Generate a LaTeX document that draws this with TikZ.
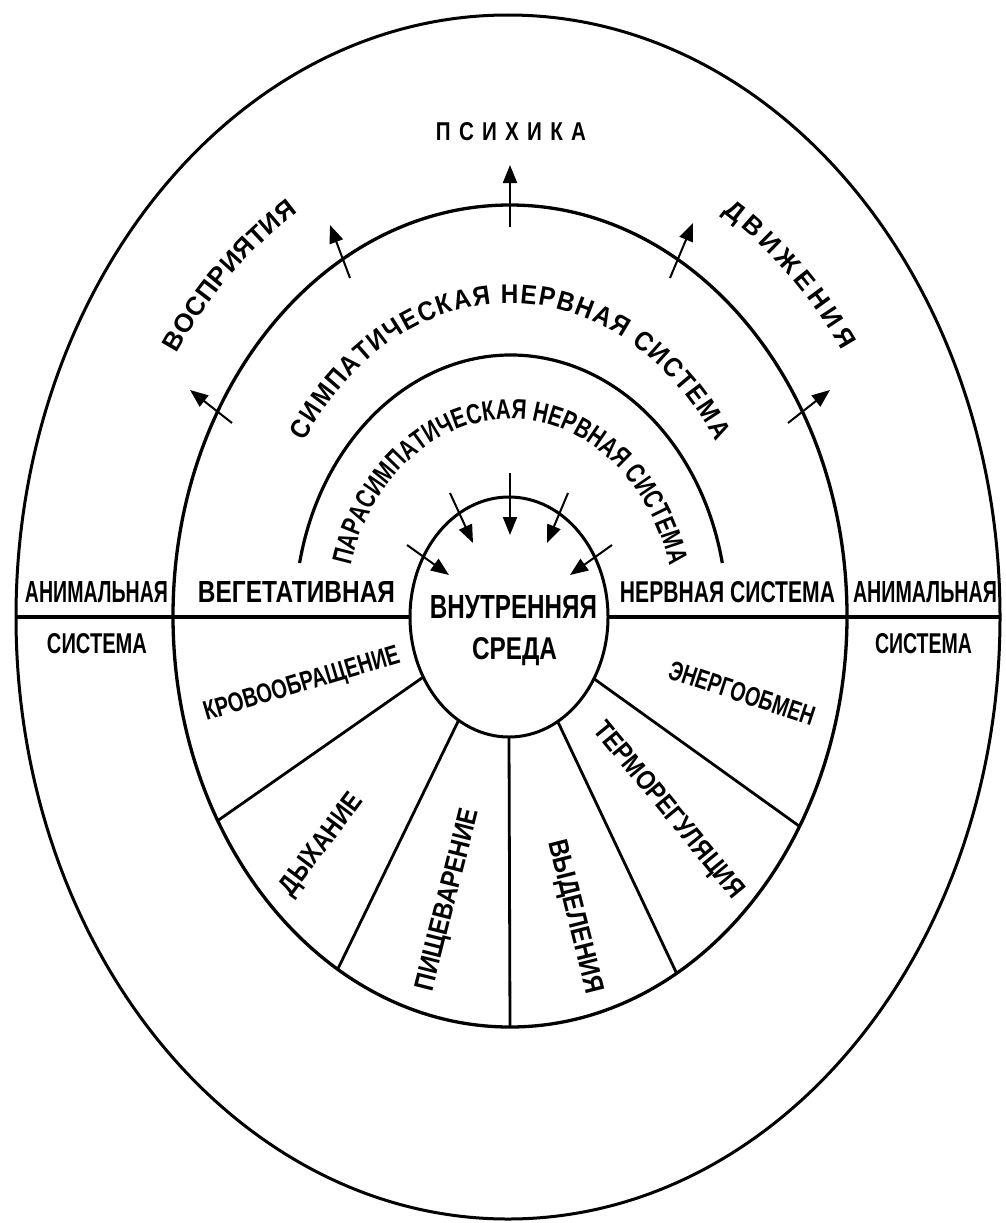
\documentclass[tikz,border=0pt]{standalone}
\usepackage{fontspec}
\usepackage{graphicx}
\setmainfont{Liberation Sans}
\newfontfamily\condfont[FakeStretch=0.72]{Liberation Sans}
\newfontfamily\parafont[FakeStretch=0.74]{Liberation Sans}
\newfontfamily\semifont[FakeStretch=0.9]{Liberation Sans}
\usetikzlibrary{shapes.geometric,arrows.meta,decorations.text}
\begin{document}
\begin{tikzpicture}[x=1pt,y=1pt,
  ell/.style={ellipse, draw, line width=3pt, inner sep=0pt, outer sep=0pt},
  lbl/.style={inner sep=0pt, outer sep=0pt, font=\bfseries},
  arr/.style={line width=2pt, -{Triangle[length=18pt,width=14pt]}},
  spoke/.style={line width=2.8pt},
  bigline/.style={line width=3.5pt},
]
\useasboundingbox (0,0) rectangle (1005,-1223);
\fill[white] (0,0) rectangle (1005,-1223);

% ellipses
\node[ell, minimum width=984pt, minimum height=1204pt] (outer) at (508,-617) {};
\node[ell, line width=3.3pt, minimum width=674pt, minimum height=822pt] (mid) at (510,-616) {};
\node[ell, minimum width=198pt, minimum height=240pt] (core) at (509,-617) {};

% horizontal line
\draw[bigline] (outer.west) -- (core.west);
\draw[bigline] (core.east) -- (outer.east);

% spokes
\draw[spoke] (core.215.5) -- (mid.215.5);
\draw[spoke] (core.244.5) -- (mid.244.5);
\draw[spoke] (core.270) -- (mid.270);
\draw[spoke] (core.295) -- (mid.295);
\draw[spoke] (core.324) -- (mid.324);

% parasympathetic arc
\coordinate (pstart) at (299.6,-563);
\draw[line width=3.2pt] (pstart) arc[start angle=168.1, end angle=11.9, x radius=216, y radius=262];

% outward arrows
\coordinate (t1) at (510,-227); \coordinate (h1) at (510,-165);
\coordinate (t2) at (350,-278); \coordinate (h2) at (330,-225);
\coordinate (t3) at (232,-423); \coordinate (h3) at (190,-390);
\coordinate (t4) at (670,-278); \coordinate (h4) at (693,-223);
\coordinate (t5) at (788,-423); \coordinate (h5) at (830,-390);
\foreach \i in {1,...,5} \draw[arr] (t\i) -- (h\i);

% inward arrows
\coordinate (a1) at (510,-473); \coordinate (b1) at (510,-535);
\coordinate (a2) at (450,-493); \coordinate (b2) at (473,-543);
\coordinate (a3) at (568,-493); \coordinate (b3) at (547,-543);
\coordinate (a4) at (407,-545); \coordinate (b4) at (449,-575);
\coordinate (a5) at (612,-545); \coordinate (b5) at (570,-575);
\foreach \i in {1,...,5} \draw[arr] (a\i) -- (b\i);

% curved texts
\coordinate (symstart) at ({510+248*cos(146)},{-617+314*sin(146)});
\path[decorate, decoration={text along path, text align={fit to path},
  text format delimiters={|}{|},
  text={|\semifont\bfseries\fontsize{27}{27}\selectfont|СИМПАТИЧЕСКАЯ НЕРВНАЯ СИСТЕМА}}]
  (symstart) arc[start angle=146, end angle=34, x radius=248, y radius=314];

\coordinate (parstart) at ({510+165*cos(165)},{-617+198*sin(165)});
\path[decorate, decoration={text along path, text align={fit to path},
  text format delimiters={|}{|},
  text={|\parafont\bfseries\fontsize{28}{28}\selectfont|ПАРАСИМПАТИЧЕСКАЯ НЕРВНАЯ СИСТЕМА}}]
  (parstart) arc[start angle=165, end angle=15, x radius=165, y radius=198];

\coordinate (vosstart) at ({510+400*cos(146.4)},{-617+477*sin(146.4)});
\path[decorate, decoration={text along path, text align={fit to path},
  text format delimiters={|}{|},
  text={|\bfseries\fontsize{26}{26}\selectfont|ВОСПРИЯТИЯ}}]
  (vosstart) arc[start angle=146.4, end angle=122, x radius=400, y radius=477];

\coordinate (dvstart) at ({510+400*cos(58)},{-617+477*sin(58)});
\path[decorate, decoration={text along path, text align={fit to path},
  text format delimiters={|}{|},
  text={|\bfseries\fontsize{26}{26}\selectfont|ДВИЖЕНИЯ}}]
  (dvstart) arc[start angle=58, end angle=34, x radius=400, y radius=477];

\node[lbl, anchor=base] (psy) at (511,-140)
  {\resizebox{150pt}{18pt}{П\hspace{0.4em}С\hspace{0.4em}И\hspace{0.4em}Х\hspace{0.4em}И\hspace{0.4em}К\hspace{0.4em}А}};

% horizontal labels
\node[lbl, anchor=base] (anl) at (96.5,-602.5) {\resizebox{143pt}{21pt}{\condfont\bfseries АНИМАЛЬНАЯ}};
\node[lbl, anchor=base] (sysl) at (97,-653) {\resizebox{100pt}{20pt}{\condfont\bfseries СИСТЕМА}};
\node[lbl, anchor=base] (veg) at (296.5,-602.5) {\resizebox{197pt}{21pt}{ВЕГЕТАТИВНАЯ}};
\node[lbl, anchor=base] (nerv) at (727.5,-602.5) {\resizebox{215pt}{21pt}{\condfont\bfseries НЕРВНАЯ СИСТЕМА}};
\node[lbl, anchor=base] (anr) at (925,-602.5) {\resizebox{144pt}{21pt}{\condfont\bfseries АНИМАЛЬНАЯ}};
\node[lbl, anchor=base] (sysr) at (923.5,-653) {\resizebox{97pt}{20pt}{\condfont\bfseries СИСТЕМА}};
\node[lbl, anchor=base] (vnut) at (513.5,-618) {\resizebox{167pt}{23pt}{ВНУТРЕННЯЯ}};
\node[lbl, anchor=base] (sreda) at (514.5,-659) {\resizebox{85pt}{22pt}{СРЕДА}};

% sector labels
\node[lbl, rotate=16.6] (krov) at (302,-685) {\resizebox{203pt}{19pt}{\condfont\bfseries КРОВООБРАЩЕНИЕ}};
\node[lbl, rotate=53.1] (dyh) at (322,-845) {\resizebox{120pt}{19pt}{\condfont\bfseries ДЫХАНИЕ}};
\node[lbl, rotate=75.8] (pish) at (449,-900) {\resizebox{187pt}{19pt}{\condfont\bfseries ПИЩЕВАРЕНИЕ}};
\node[lbl, rotate=-75.9] (vyd) at (574,-917) {\resizebox{158pt}{19pt}{\condfont\bfseries ВЫДЕЛЕНИЯ}};
\node[lbl, rotate=-50.6] (term) at (668,-811) {\resizebox{220pt}{19pt}{\condfont\bfseries ТЕРМОРЕГУЛЯЦИЯ}};
\node[lbl, rotate=-18.2] (energ) at (742,-693) {\resizebox{152pt}{19pt}{\condfont\bfseries ЭНЕРГООБМЕН}};
\end{tikzpicture}
\end{document}
